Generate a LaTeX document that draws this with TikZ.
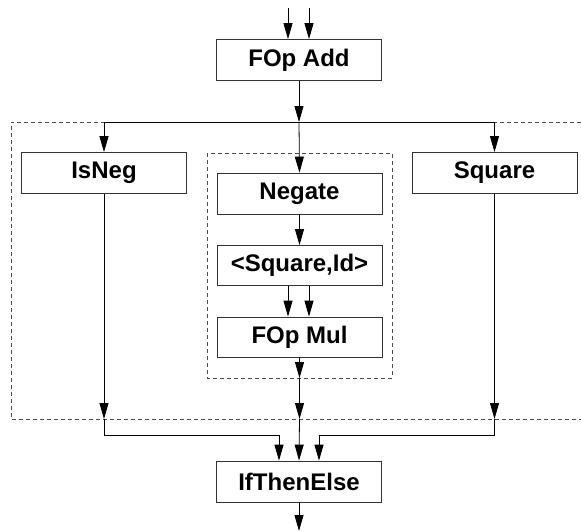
\documentclass[tikz,border=0pt]{standalone}
\usepackage{fontspec}
\setmainfont{Liberation Sans}
\usetikzlibrary{arrows.meta}
\begin{document}
\begin{tikzpicture}[x=1pt,y=-1pt,
  opbox/.style={draw=black!80,line width=0.8pt,fill=white,minimum width=165pt,minimum height=41pt,inner sep=0pt,
    font=\fontsize{24}{28}\selectfont\bfseries},
  arr/.style={draw=black,line width=0.8pt,-{Triangle[length=16pt,width=9pt]}},
  conn/.style={draw=black,line width=0.8pt},
  grp/.style={draw=black!70,line width=0.8pt,dash pattern=on 4pt off 3pt}]
\useasboundingbox (0,0) rectangle (581,531);
% groups
\draw[grp] (581,122) -- (11,122) -- (11,419) -- (581,419);
\draw[grp] (207,153) rectangle (392,378);
% nodes
\node[opbox] (add) at (299,60) {FOp Add};
\node[opbox] (isneg) at (104,173) {IsNeg};
\node[opbox] (negate) at (299.5,193.5) {Negate};
\node[opbox] (square) at (494.5,173) {Square};
\node[opbox,minimum height=40pt] (sqid) at (299.5,265.5) {<Square,Id>};
\node[opbox,minimum height=40pt] (mul) at (299.5,337) {FOp Mul};
\node[opbox] (ite) at (299,481.5) {IfThenElse};
% coordinates
\coordinate (in1) at (288,8);
\coordinate (in2) at (309,8);
\coordinate (jt) at (299,122);
\coordinate (ob) at (0,419);
\coordinate (ib) at (0,378);
\coordinate (jb) at (0,435);
\coordinate (out) at (299,531);
% connectors
\draw[arr] (in1) -- (in1 |- add.north);
\draw[arr] (in2) -- (in2 |- add.north);
\draw[arr] (add.south) -- (jt);
\draw[conn] (isneg.north |- jt) -- (square.north |- jt);
\draw[arr] (isneg.north |- jt) -- (isneg.north);
\draw[arr] (jt) -- (negate.north);
\draw[arr] (square.north |- jt) -- (square.north);
\draw[arr] (negate.south) -- (sqid.north);
\draw[arr] ([xshift=-11.5pt]sqid.south) -- ([xshift=-11.5pt]mul.north);
\draw[arr] ([xshift=9.5pt]sqid.south) -- ([xshift=9.5pt]mul.north);
\draw[arr] (mul.south) -- (mul.south |- ib);
\draw[arr] (mul.south |- ib) -- (mul.south |- ob);
\draw[arr] (mul.south |- ob) -- (ite.north);
\draw[arr] (isneg.south) -- (isneg.south |- ob);
\draw[arr] (isneg.south |- ob) -- (isneg.south |- jb) -| ([xshift=-20pt]ite.north);
\draw[arr] (square.south) -- (square.south |- ob);
\draw[arr] (square.south |- ob) -- (square.south |- jb) -| ([xshift=20pt]ite.north);
\draw[arr] (ite.south) -- (out);
\end{tikzpicture}
\end{document}
